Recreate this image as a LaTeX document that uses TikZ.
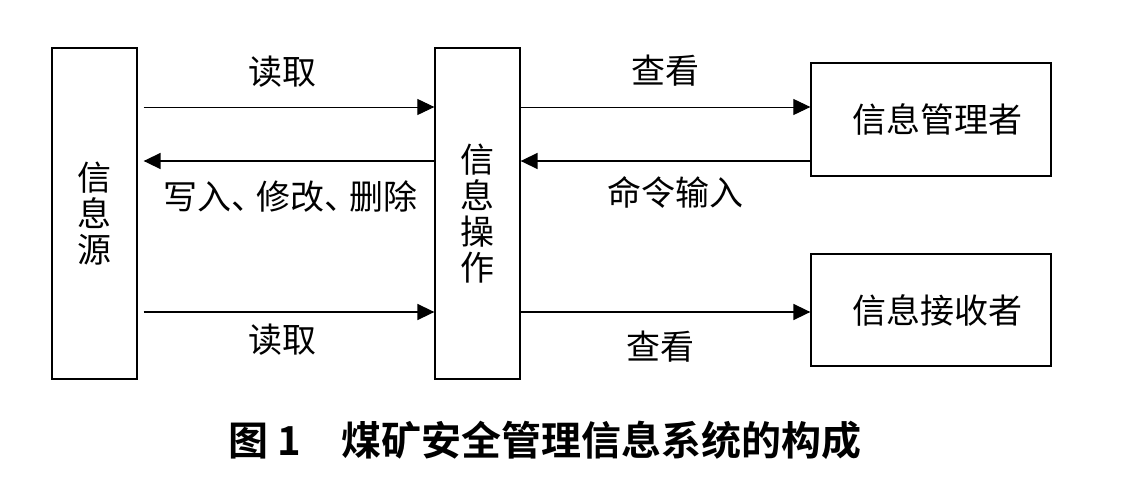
\documentclass[tikz,border=0pt]{standalone}
\usepackage{fontspec}
\newfontfamily\cjk{Noto Sans CJK SC}
\newfontfamily\cjkbf{Noto Sans CJK SC Bold}
\usetikzlibrary{
  arrows.meta, % 三角箭头
  calc,        % 坐标计算
  positioning  % 节点相对定位
}
\tikzset{
  box/.style={
    draw,
    line width=1.3pt,
    inner sep=0pt,
    align=center,
    font=\cjk\fontsize{34}{36}\selectfont
  },
  flow/.style={
    -{Triangle[length=17pt,width=16pt]},
    line width=1pt
  },
  heavy flow/.style={
    flow,
    line width=1.6pt
  },
  lbl/.style={
    inner sep=0pt,
    font=\cjk\fontsize{34}{36}\selectfont
  }
}

\begin{document}
\begin{tikzpicture}[x=1pt, y=-1pt]
    \useasboundingbox (0,0) rectangle (1121,479);

    % 1. 四个方框
    \node[box, minimum width=85pt, minimum height=331pt] (src) at (94.5,213.5) {信\\息\\源};
    \node[box, minimum width=85pt, minimum height=331pt] (op) at (477.5,213.5) {信\\息\\操\\作};
    \node[box, minimum width=240pt, minimum height=113pt] (mgr) at (931,119.5) {\hspace{12pt}信息管理者};
    \node[box, minimum width=240pt, minimum height=112pt] (rcv) at (931,310) {\hspace{12pt}信息接收者};

    % 2. 三条箭头所在的高度
    \coordinate (r1) at (0,107);
    \coordinate (r2) at (0,161);
    \coordinate (r3) at (0,312);

    % 3. 信息源 <-> 信息操作
    \draw[flow] ($(src.east |- r1)+(6,0)$) -- (op.west |- r1);
    \draw[heavy flow] (op.west |- r2) -- ($(src.east |- r2)+(6,0)$);
    \draw[heavy flow] ($(src.east |- r3)+(6,0)$) -- (op.west |- r3);

    % 4. 信息操作 <-> 管理者、接收者
    \draw[flow] (op.east |- r1) -- (mgr.west |- r1);
    \draw[heavy flow] (mgr.west |- r2) -- (op.east |- r2);
    \draw[heavy flow] (op.east |- r3) -- (rcv.west |- r3);

    % 5. 箭头上的文字（顿号收紧）
    \node[lbl] (read1) at (282,72) {读取};
    \node[lbl] (write) at (290,197) {写入、\kern-9pt修改、\kern-9pt删除};
    \node[lbl] (read2) at (282,340) {读取};
    \node[lbl] (view1) at (665,71) {查看};
    \node[lbl] (cmd) at (675,192) {命令输入};
    \node[lbl] (view2) at (660,347) {查看};

    % 6. 图题
    \node[inner sep=0pt, font=\cjkbf\fontsize{40}{42}\selectfont] (cap) at (545,440) {图 1\hspace{1em}煤矿安全管理信息系统的构成};

\end{tikzpicture}
\end{document}
